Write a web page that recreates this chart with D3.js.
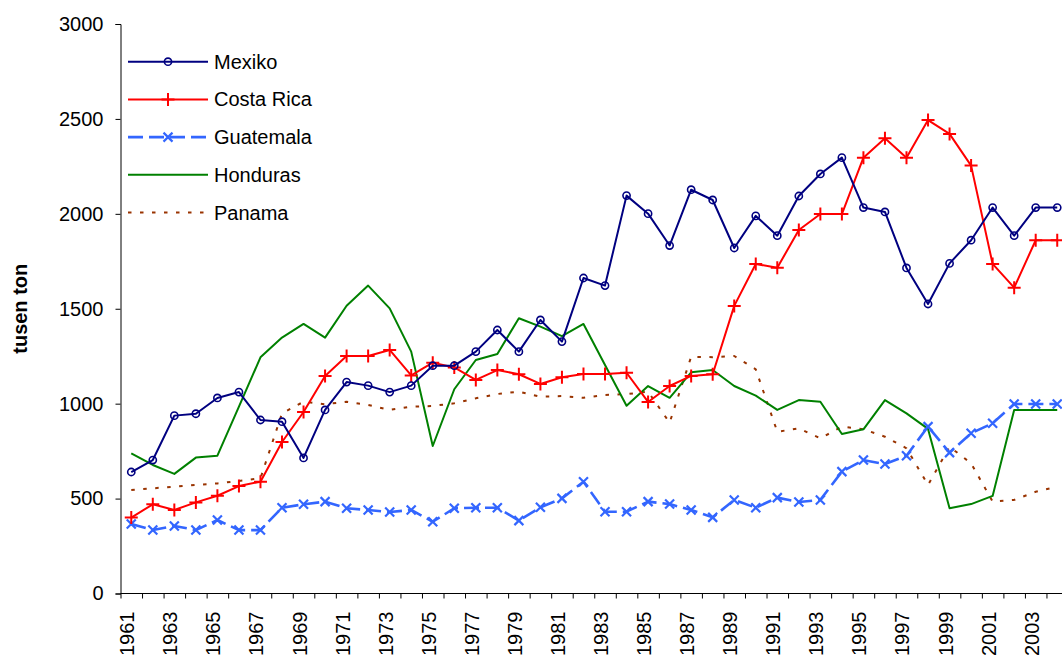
<!DOCTYPE html>
<html>
<head>
<meta charset="utf-8">
<script src="https://cdn.jsdelivr.net/npm/d3@7/dist/d3.min.js"></script>
<style>
  html, body { margin: 0; padding: 0; background: #fff; }
  svg { display: block; font-family: "Liberation Sans", Arial, sans-serif; }
</style>
</head>
<body>
<svg id="chart" width="1062" height="657"></svg>
<script>
// Production per country, thousand tonnes (tusen ton), 1961–2004
const years = d3.range(1961, 2005);
const yTicks = [0, 500, 1000, 1500, 2000, 2500, 3000];

const mexiko = [640, 703, 937, 947, 1030, 1061, 914, 905, 714, 967, 1114, 1095, 1061, 1095, 1200,
  1200, 1274, 1388, 1274, 1441, 1327, 1662, 1622, 2096, 2001, 1833, 2127, 2073, 1820, 1989,
  1885, 2094, 2210, 2296, 2033, 2010, 1715, 1525, 1739, 1861, 2033, 1885, 2033, 2033];

const costaRica = [400, 470, 440, 480, 515, 566, 589, 798, 956, 1146, 1251, 1251, 1283, 1149, 1216,
  1191, 1125, 1177, 1155, 1104, 1139, 1156, 1156, 1163, 1009, 1093, 1146, 1155, 1515, 1736,
  1716, 1915, 1999, 1999, 2296, 2398, 2296, 2494, 2421, 2254, 1736, 1611, 1861, 1861];

const guatemala = [366, 334, 356, 334, 387, 334, 334, 452, 470, 484, 449, 440, 429, 440, 378,
  449, 452, 452, 384, 454, 501, 589, 431, 431, 484, 471, 440, 401, 493, 452,
  505, 482, 493, 642, 703, 682, 726, 879, 742, 844, 897, 998, 998, 998];

const honduras = [738, 677, 630, 716, 726, 984, 1244, 1348, 1420, 1348, 1516, 1622, 1502, 1274, 777,
  1076, 1230, 1262, 1450, 1406, 1356, 1420, 1204, 989, 1093, 1031, 1165, 1177, 1093, 1042,
  967, 1019, 1010, 840, 865, 1019, 949, 867, 449, 471, 514, 967, 967, 967];

const panama = [545, 554, 563, 572, 580, 593, 607, 949, 1010, 997, 1010, 993, 967, 984, 988,
  1002, 1028, 1051, 1063, 1037, 1040, 1031, 1046, 1050, 1063, 900, 1247, 1245, 1251, 1181,
  852, 870, 817, 879, 865, 826, 765, 572, 773, 686, 484, 493, 536, 563];

const seriesNames = ["Mexiko", "Costa Rica", "Guatemala", "Honduras", "Panama"];
const seriesValues = [mexiko, costaRica, guatemala, honduras, panama];

// Per-series drawing style
const styles = {
  "Mexiko":     { color: "#000080", width: 2,   dash: null,      marker: "circle" },
  "Costa Rica": { color: "#FF0000", width: 2,   dash: null,      marker: "plus" },
  "Guatemala":  { color: "#3366FF", width: 2.6, dash: "15,6",    marker: "cross" },
  "Honduras":   { color: "#008000", width: 2,   dash: null,      marker: null },
  "Panama":     { color: "#993300", width: 2,   dash: "3.5,8.5", marker: null }
};

const svg = d3.select("#chart");
const plotLeft = 120.5, plotRight = 1068, plotTop = 24, plotBottom = 593.5;

const x = d3.scaleBand().domain(years).range([plotLeft, plotRight]).paddingInner(0).paddingOuter(0);
const xc = yr => x(yr) + x.bandwidth() / 2;
const xEdges = d3.scaleLinear().domain([0, years.length]).range([plotLeft, plotRight]);
const y = d3.scaleLinear().domain([0, 3000]).range([plotBottom, plotTop]);

// Y axis
const yAxis = svg.append("g")
  .attr("transform", `translate(${plotLeft},0)`)
  .call(d3.axisLeft(y).tickValues(yTicks).tickSize(5).tickPadding(12).tickFormat(d3.format("d")));
yAxis.selectAll("text").attr("font-size", 20).attr("fill", "#000")
  .attr("font-family", "'Liberation Sans', Arial, sans-serif");
yAxis.selectAll("line, path").attr("stroke", "#000");

// X axis: tick marks on category boundaries
const xTickAxis = svg.append("g")
  .attr("transform", `translate(0,${plotBottom})`)
  .call(d3.axisBottom(xEdges).tickValues(d3.range(0, years.length + 1)).tickSize(5).tickFormat(""));
xTickAxis.select("path").attr("d", `M${plotLeft},0H${plotRight}`);
xTickAxis.selectAll("line, path").attr("stroke", "#000");

// X axis labels: every other year, rotated
const labelYears = years.filter(yr => yr % 2 === 1);
svg.append("g").selectAll("text")
  .data(labelYears)
  .join("text")
  .attr("transform", d => `translate(${xc(d) + 3},${plotBottom + 18}) rotate(-90)`)
  .attr("text-anchor", "end")
  .attr("font-size", 20)
  .attr("fill", "#000")
  .text(d => d);

// Y axis title
svg.append("text")
  .attr("transform", `translate(27,${(plotTop + plotBottom) / 2}) rotate(-90)`)
  .attr("text-anchor", "middle")
  .attr("font-size", 20)
  .attr("font-weight", "bold")
  .attr("fill", "#000")
  .text("tusen ton");

// Marker drawing helper
function drawMarker(g, type, cx, cy, color) {
  if (type === "circle") {
    g.append("circle").attr("cx", cx).attr("cy", cy).attr("r", 3.6)
      .attr("fill", "none").attr("stroke", color).attr("stroke-width", 1.6);
  } else if (type === "plus") {
    const s = 6.5;
    g.append("path").attr("d", `M${cx - s},${cy}H${cx + s}M${cx},${cy - s}V${cy + s}`)
      .attr("stroke", color).attr("stroke-width", 2).attr("fill", "none");
  } else if (type === "cross") {
    const s = 4.5;
    g.append("path").attr("d", `M${cx - s},${cy - s}L${cx + s},${cy + s}M${cx - s},${cy + s}L${cx + s},${cy - s}`)
      .attr("stroke", color).attr("stroke-width", 2.2).attr("fill", "none");
  }
}

const line = d3.line().x(d => xc(d.year)).y(d => y(d.value));

// Draw series in back-to-front order
const drawOrder = ["Panama", "Honduras", "Guatemala", "Costa Rica", "Mexiko"];
drawOrder.forEach(name => {
  const vals = seriesValues[seriesNames.indexOf(name)];
  const st = styles[name];
  const data = years.map((yr, i) => ({ year: yr, value: vals[i] }));
  const g = svg.append("g");
  g.append("path")
    .datum(data)
    .attr("d", line)
    .attr("fill", "none")
    .attr("stroke", st.color)
    .attr("stroke-width", st.width)
    .attr("stroke-linejoin", "round")
    .attr("stroke-dasharray", st.dash);
  if (st.marker) {
    data.forEach(d => drawMarker(g, st.marker, xc(d.year), y(d.value), st.color));
  }
});

// Legend
const legend = svg.append("g");
seriesNames.forEach((name, i) => {
  const st = styles[name];
  const ly = 61.7 + i * 37.7;
  legend.append("line")
    .attr("x1", 128).attr("x2", 208).attr("y1", ly).attr("y2", ly)
    .attr("stroke", st.color).attr("stroke-width", st.width)
    .attr("stroke-dasharray", st.dash);
  if (st.marker) drawMarker(legend, st.marker, 168, ly, st.color);
  legend.append("text")
    .attr("x", 214).attr("y", ly).attr("dy", "0.35em")
    .attr("font-size", 20).attr("fill", "#000")
    .text(name);
});
</script>
</body>
</html>
